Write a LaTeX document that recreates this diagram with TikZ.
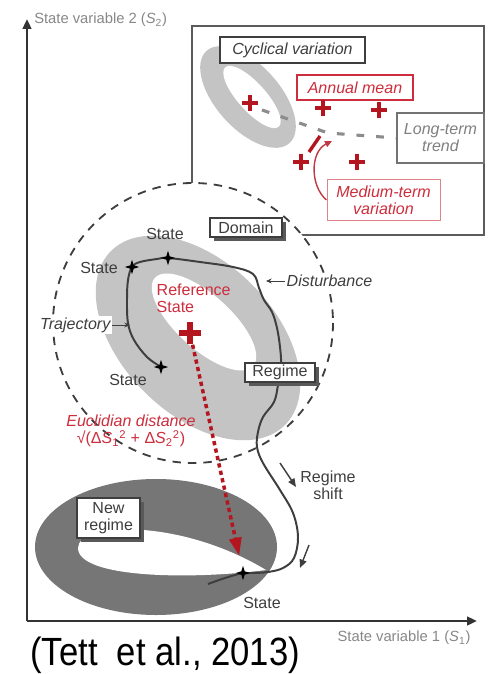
\documentclass[tikz,border=0pt]{standalone}
\usepackage{fontspec}
\setmainfont{Liberation Sans}
\usepackage{xcolor}
\definecolor{deepred}{RGB}{180, 22, 32}
\definecolor{labelred}{RGB}{205, 45, 60}
\definecolor{palered}{RGB}{222, 130, 140}
\definecolor{ringlight}{RGB}{196, 196, 196}
\definecolor{ringdark}{RGB}{118, 118, 118}
\definecolor{inkgrey}{RGB}{62, 62, 62}
\definecolor{axisgrey}{RGB}{135, 135, 135}
\usepackage{tikz}
\usetikzlibrary{
    shapes.geometric,
    arrows.meta,
    positioning,
    calc,
    shadows
}

\begin{document}
\begin{tikzpicture}[
    x=0.025cm, y=-0.025cm,
    lbl/.style={font=\fontsize{11.4}{12}\selectfont, text=inkgrey, inner sep=1pt, align=center},
    lblit/.style={lbl, font=\fontsize{11.4}{12}\selectfont\itshape},
    redlbl/.style={lbl, text=labelred},
    axislbl/.style={font=\fontsize{10.5}{12}\selectfont, text=axisgrey, inner sep=0pt},
    tagbox/.style={draw=inkgrey, line width=0.8pt, fill=white, inner sep=0pt, align=center, font=\fontsize{11.4}{12}\selectfont, text=inkgrey},
    shadowbox/.style={tagbox, drop shadow={shadow xshift=2.6pt, shadow yshift=-2.6pt, fill=black!65, opacity=1}},
    statemark/.style={star, star points=4, star point ratio=3, fill=black, draw=none, inner sep=0pt, minimum size=0.36cm},
    plusmark/.style={draw=deepred, line width=3.4pt},
    traj/.style={draw=inkgrey, line width=1.4pt},
    trend/.style={draw=black!45, line width=2.2pt, dash pattern=on 5.5pt off 8.5pt},
    domainline/.style={draw=inkgrey, line width=1.3pt, dash pattern=on 6pt off 5pt},
    axisline/.style={draw=black!80, line width=1.8pt, -{Triangle[length=7pt, width=6pt]}},
    ptr/.style={draw=inkgrey, line width=0.7pt, -{Stealth[length=4pt, width=3.5pt]}},
    shiftptr/.style={draw=inkgrey, line width=1pt, -{Triangle[length=6pt, width=5pt]}}
]
\useasboundingbox (0,0) rectangle (487,674);

% ==================== INSET (TIME SCALES) ====================
\draw[draw=inkgrey!85, line width=1.5pt] (192,26) rectangle (484,235);

\fill[ringlight, rotate around={-48:(248,97)}] (248,97) ellipse (62 and 32);
\fill[white, rotate around={-48:(252,97)}] (252,97) ellipse (40 and 14);

\node[tagbox, line width=1.5pt, font=\fontsize{11.4}{12}\selectfont\itshape, minimum width=3.625cm, minimum height=0.65cm] (cyclic) at (292.5,50) {Cyclical variation};
\node[tagbox, draw=labelred, text=labelred, line width=1.2pt, font=\fontsize{11.4}{12}\selectfont\itshape, minimum width=2.9cm, minimum height=0.625cm] (annual) at (355,87.5) {Annual mean};
\node[tagbox, draw=black!55, text=black!50, line width=1.5pt, font=\fontsize{11.4}{12}\selectfont\itshape, minimum width=2.175cm, minimum height=1.25cm] (longterm) at (440.5,138) {Long-term\\trend};
\node[tagbox, draw=palered, text=labelred, line width=0.7pt, font=\fontsize{11.4}{12}\selectfont\itshape, minimum width=2.825cm, minimum height=1.0cm] (medium) at (383.5,200) {Medium-term\\variation};

\coordinate (trendbend) at (328,133);
\draw[trend] (262,110) -- (trendbend) -- (longterm.west);
\draw[draw=deepred, line width=2.4pt] (320,136) -- (309,152);
\draw[draw=deepred!85, line width=1pt, -{Triangle[length=5pt, width=4.5pt]}] (medium.west) .. controls (310,186) and (310,152) .. (332,141);

\foreach \cx/\cy in {250/103, 323/108, 379/110, 301/162, 357/162} {
    \draw[plusmark] (\cx-8,\cy) -- (\cx+8,\cy) (\cx,\cy-8) -- (\cx,\cy+8);
}

% ==================== DOMAIN AND REGIME ====================
\fill[white] (193,323) circle (140);
\fill[ringlight, rotate around={-45:(198,338)}] (198,338) ellipse (123 and 76);
\fill[white, rotate around={-42:(204,322)}] (204,322) ellipse (66 and 27);
\draw[domainline] (193,323) circle (140);

% ==================== NEW REGIME ====================
\fill[ringdark] (156,547) ellipse (121 and 68);
\fill[white] (78,548) .. controls (78,522) and (180,518) .. (266,570) .. controls (190,580) and (78,578) .. cycle;

% ==================== TRAJECTORY ====================
\draw[traj] plot[smooth, tension=0.6] coordinates {
    (161,367) (147,357) (134,340) (128,323) (127,300) (128,280) (132,267)
    (140,262) (157,259) (168,258) (200,262) (233,267) (253,274) (259,288)
    (264,300) (272,312) (277,328) (280,347) (281,365) (278,385) (274,402)
    (263,417) (258,432) (257,447) (263,463) (280,490) (293,513) (298,537)
    (294,558) (283,568) (268,572) (253,573) (243,573) (225,578) (208,584)
};

\node[statemark] (sL) at (132,267) {};
\node[statemark] (sT) at (168,258) {};
\node[statemark] (sB) at (161,367) {};
\node[statemark] (sN) at (243,573) {};

\node[lbl] (sLlab) at (99,268) {State};
\node[lbl] (sTlab) at (165,234) {State};
\node[lbl] (sBlab) at (128,380) {State};
\node[lbl] (sNlab) at (262,603) {State};

% labelled pointers
\node[lblit, fill=white, anchor=west] (disturb) at (285,281) {Disturbance};
\coordinate (disturbpt) at (266,281);
\draw[ptr] (disturb.west) -- (disturbpt);

\node[lblit, fill=white, anchor=east] (trajlab) at (112,325) {Trajectory};
\coordinate (trajpt) at (130,325);
\draw[ptr] (trajlab.east) -- (trajpt);

% ==================== BOXES ====================
\node[shadowbox, minimum width=1.8cm, minimum height=0.475cm] (domain) at (246,227.5) {Domain};
\node[shadowbox, minimum width=1.75cm, minimum height=0.475cm] (regime) at (280,372.5) {Regime};
\node[shadowbox, minimum width=1.575cm, minimum height=1.0cm] (newregime) at (108.5,518) {New\\regime};

% ==================== REGIME SHIFT ====================
\coordinate (shiftA) at (280,463);
\coordinate (shiftB) at (296,487);
\coordinate (shiftC) at (309,545);
\coordinate (shiftD) at (300,568);
\draw[shiftptr] (shiftA) -- (shiftB);
\draw[shiftptr] (shiftC) -- (shiftD);
\node[lbl] (shiftlab) at (328,485) {Regime\\shift};

% ==================== REFERENCE STATE ====================
\node[redlbl, anchor=north west, align=left] (reflab) at (155,282) {Reference\\State};
\coordinate (refpt) at (190,333);
\draw[plusmark, line width=3.8pt] (179,333) -- (201,333) (190,322) -- (190,344);
\draw[draw=deepred, line width=2.5pt, dash pattern=on 3pt off 2.4pt, shorten <=0.3cm, shorten >=0.32cm,
      -{Triangle[length=0.45cm, width=0.3cm]}] (refpt) -- (sN);
\node[redlbl] (euclid) at (131,431) {\textit{Euclidian distance}\\√(Δ\textit{S}\textsubscript{1}\textsuperscript{2} + Δ\textit{S}\textsubscript{2}\textsuperscript{2})};

% ==================== AXES ====================
\coordinate (origin) at (27,621);
\coordinate (ytip) at (27,19);
\coordinate (xtip) at (477,621);
\draw[axisline] (origin) -- (ytip);
\draw[axisline] (origin) -- (xtip);
\node[axislbl, anchor=west] (ylab) at (34,20) {State variable 2 (\textit{S}\textsubscript{2})};
\node[axislbl] (xlab) at (404,638) {State variable 1 (\textit{S}\textsubscript{1})};

\node[anchor=base west, inner sep=0pt, font=\fontsize{28}{32}\selectfont] (cite) at (30,665) {\scalebox{0.88}[1]{(Tett\ \ et al., 2013)}};

\end{tikzpicture}
\end{document}
